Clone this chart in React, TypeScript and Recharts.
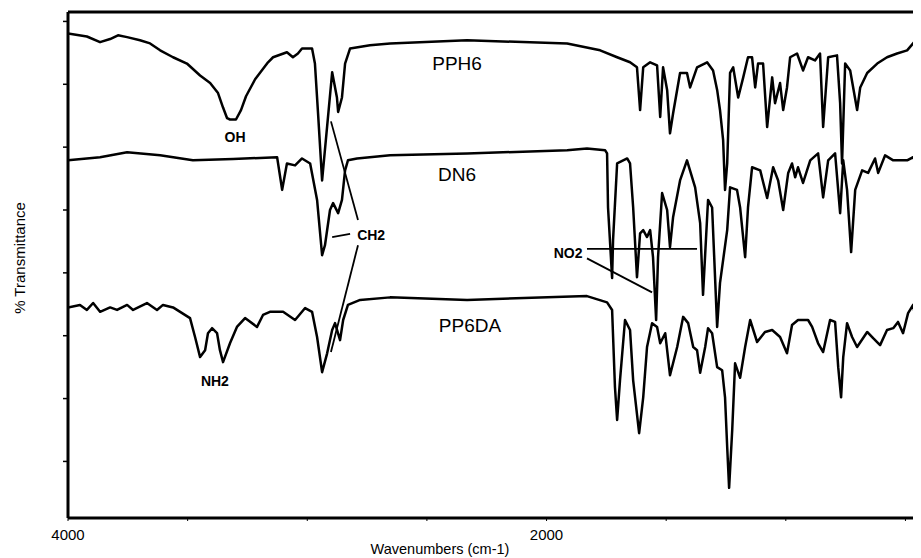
import { LineChart, Line, XAxis, YAxis, ReferenceLine, ReferenceDot } from "recharts";

const FONT = '"Liberation Sans", Arial, Helvetica, sans-serif';

// [wavenumber cm-1, %T (offset, arbitrary units)]
const pph6: [number, number][] = [
  [4000, 77.1], [3921, 76.6], [3866, 75.7], [3824, 76.2], [3791, 76.8], [3753, 76.5],
  [3699, 76.0], [3657, 75.5], [3615, 74.4], [3561, 73.3], [3503, 72.3], [3448, 70.4],
  [3406, 69.2], [3373, 67.6], [3352, 65.3], [3335, 63.6], [3323, 63.4], [3298, 63.4],
  [3277, 64.9], [3256, 67.1], [3218, 69.8], [3164, 72.5], [3143, 73.3], [3085, 74.1],
  [3060, 73.3], [3039, 73.9], [3022, 74.7], [2980, 74.7], [2968, 72.3], [2955, 64.4],
  [2938, 53.7], [2896, 70.9], [2876, 66.9], [2871, 64.6], [2855, 66.9], [2842, 72.3],
  [2821, 74.7], [2738, 75.2], [2654, 75.5], [2332, 76.0], [1914, 75.5], [1776, 74.4],
  [1705, 73.3], [1651, 72.5], [1622, 71.7], [1609, 64.9], [1596, 71.7], [1567, 72.5],
  [1538, 72.0], [1525, 63.8], [1513, 71.7], [1496, 68.1], [1484, 61.2], [1471, 64.4],
  [1442, 70.8], [1413, 70.8], [1400, 68.5], [1371, 71.7], [1329, 72.5], [1304, 71.2],
  [1287, 68.1], [1275, 64.9], [1262, 60.1], [1254, 52.2], [1245, 56.4], [1233, 70.8],
  [1220, 71.7], [1199, 66.9], [1178, 70.1], [1158, 73.3], [1141, 73.3], [1128, 68.5],
  [1116, 72.3], [1095, 72.3], [1078, 62.2], [1057, 70.1], [1045, 66.0], [1024, 69.2],
  [1011, 64.9], [995, 68.5], [982, 73.3], [953, 73.9], [928, 71.2], [907, 73.3],
  [878, 72.8], [857, 73.9], [844, 62.2], [823, 73.3], [786, 73.6], [773, 66.0],
  [765, 56.4], [752, 72.3], [731, 71.2], [702, 64.9], [689, 68.5], [660, 70.8],
  [618, 72.3], [577, 73.3], [535, 73.9], [493, 74.4], [468, 75.5], [439, 77.1],
];

const dn6: [number, number][] = [
  [4000, 56.9], [3866, 57.4], [3753, 58.2], [3615, 57.7], [3478, 56.9], [3310, 57.1],
  [3126, 57.4], [3105, 52.2], [3085, 56.4], [3051, 56.1], [3022, 57.2], [2988, 56.4],
  [2959, 50.6], [2938, 41.8], [2926, 43.4], [2905, 49.0], [2892, 50.1], [2871, 48.5],
  [2855, 50.6], [2842, 55.3], [2830, 56.9], [2792, 57.2], [2654, 57.7], [2332, 58.0],
  [1914, 58.5], [1831, 58.8], [1755, 58.5], [1747, 58.0], [1743, 49.4], [1726, 38.2],
  [1722, 44.2], [1705, 56.4], [1663, 57.2], [1651, 56.4], [1638, 49.4], [1622, 38.3],
  [1609, 45.3], [1596, 45.8], [1580, 44.7], [1567, 45.8], [1555, 41.5], [1542, 31.5],
  [1534, 41.5], [1517, 51.7], [1496, 49.0], [1484, 43.1], [1471, 47.9], [1442, 53.7],
  [1413, 56.9], [1379, 52.6], [1358, 46.9], [1346, 35.5], [1325, 50.6], [1308, 49.4],
  [1287, 30.4], [1275, 37.4], [1245, 45.8], [1233, 52.6], [1204, 52.2], [1191, 49.4],
  [1170, 41.5], [1158, 49.4], [1141, 55.8], [1107, 55.3], [1078, 50.9], [1053, 55.8],
  [1032, 53.7], [1011, 49.0], [990, 54.9], [974, 56.4], [961, 54.2], [949, 55.8],
  [928, 53.3], [898, 56.9], [865, 58.0], [844, 51.0], [823, 56.9], [794, 58.0],
  [773, 48.5], [760, 56.9], [744, 52.2], [727, 42.3], [710, 52.2], [681, 55.3],
  [656, 54.9], [627, 57.2], [614, 54.9], [585, 57.7], [551, 56.9], [493, 56.9],
  [468, 57.4], [447, 55.8], [439, 54.9],
];

const pp6da: [number, number][] = [
  [4000, 33.5], [3950, 33.9], [3921, 33.1], [3895, 34.2], [3866, 32.8], [3824, 33.5],
  [3795, 33.1], [3753, 33.9], [3728, 33.1], [3670, 34.2], [3628, 33.1], [3603, 33.9],
  [3561, 33.5], [3523, 32.6], [3490, 31.8], [3469, 28.8], [3448, 25.6], [3427, 26.7],
  [3415, 29.4], [3398, 30.2], [3377, 29.4], [3365, 26.7], [3352, 24.8], [3323, 27.8],
  [3294, 30.4], [3260, 31.8], [3210, 30.4], [3185, 32.3], [3156, 32.8], [3101, 32.8],
  [3051, 31.5], [3009, 33.4], [2980, 32.8], [2959, 28.8], [2938, 23.2], [2917, 26.2],
  [2896, 29.9], [2884, 31.0], [2863, 28.3], [2850, 31.5], [2830, 33.9], [2779, 34.7],
  [2654, 35.1], [2332, 34.7], [1831, 35.3], [1747, 34.3], [1726, 33.1], [1714, 20.8],
  [1705, 15.6], [1693, 21.9], [1672, 31.5], [1651, 29.9], [1638, 21.9], [1613, 13.5],
  [1596, 19.2], [1580, 27.2], [1559, 31.0], [1538, 30.4], [1525, 27.8], [1504, 29.4],
  [1484, 22.7], [1454, 27.2], [1429, 32.0], [1408, 31.0], [1387, 27.2], [1371, 26.7],
  [1358, 23.1], [1337, 27.2], [1325, 30.2], [1308, 29.4], [1287, 24.0], [1266, 23.5],
  [1254, 19.2], [1245, 11.3], [1237, 4.8], [1224, 14.0], [1212, 24.6], [1191, 22.3],
  [1170, 27.2], [1149, 31.5], [1120, 28.0], [1087, 29.6], [1057, 29.9], [1024, 28.8],
  [995, 26.2], [974, 30.7], [949, 31.5], [907, 31.5], [890, 30.4], [865, 27.8],
  [844, 26.4], [815, 31.5], [794, 31.2], [781, 24.0], [769, 19.2], [760, 25.6],
  [744, 31.0], [723, 28.8], [702, 27.2], [660, 29.6], [635, 28.6], [606, 27.5],
  [577, 29.9], [551, 30.2], [531, 31.2], [510, 29.4], [489, 32.6], [468, 33.9],
  [451, 30.4], [439, 28.6],
];

const xTicks = [4000, 3500, 3000, 2500, 2000, 1500, 1000, 500];
const xLabeled = [4000, 2000];
const yTicks = [9, 19, 29, 39, 49, 59, 69, 79];
const yMax = 80.5;

const traceNames = ["PPH6", "DN6", "PP6DA"];
const tracePos: [number, number][] = [[2374, 72.3], [2374, 54.7], [2320, 30.7]];
const bandNames = ["OH", "NH2", "CH2", "NO2"];
const bandPos: [number, number][] = [[3302, 60.6], [3386, 21.8], [2733, 45.0], [1910, 42.1]];

// leader lines from band labels to peaks: [wn1, t1, wn2, t2]
const leaders: [number, number, number, number][] = [
  [2901, 63.1, 2788, 47.4],
  [2896, 44.7, 2821, 45.2],
  [2788, 43.4, 2901, 26.4],
  [1831, 42.8, 1371, 42.8],
  [1831, 41.3, 1559, 35.9],
];

const toRows = (pts: [number, number][]) => pts.map(([wn, t]) => ({ wn, t }));

const XTitle = ({ viewBox }: any) => (
  <text x={viewBox.x + 372} y={viewBox.y + 31} textAnchor="middle" dominantBaseline="central"
    fontSize={14.5} fontFamily={FONT} fill="#000">
    Wavenumbers (cm-1)
  </text>
);

const YTitle = ({ viewBox }: any) => {
  const x = viewBox.x + 11;
  const y = viewBox.y + 246;
  return (
    <text x={x} y={y} transform={`rotate(-90 ${x} ${y})`} textAnchor="middle" dominantBaseline="central"
      fontSize={15} fontFamily={FONT} fill="#000">
      % Transmittance
    </text>
  );
};

export default function App() {
  const series = [pph6, dn6, pp6da];
  return (
    <LineChart width={913} height={550} margin={{ top: 4, right: 0, bottom: 0, left: 0 }}
      style={{ fontFamily: FONT }}>
      <XAxis
        type="number"
        dataKey="wn"
        domain={[435, 4000]}
        reversed
        allowDataOverflow
        ticks={xTicks}
        tickFormatter={(v) => (xLabeled.includes(v) ? String(v) : "")}
        tick={{ fill: "#000", fontSize: 15, fontFamily: FONT }}
        tickSize={3}
        tickMargin={8}
        height={40}
        axisLine={{ stroke: "#000", strokeWidth: 3 }}
        tickLine={{ stroke: "#000", strokeWidth: 1 }}
        label={<XTitle />}
      />
      <YAxis
        type="number"
        domain={[0, yMax]}
        ticks={yTicks}
        tickFormatter={() => ""}
        width={60}
        tickSize={5}
        axisLine={{ stroke: "#000", strokeWidth: 3 }}
        tickLine={{ stroke: "#000", strokeWidth: 1.5 }}
        label={<YTitle />}
      />
      <ReferenceLine y={yMax} stroke="#000" strokeWidth={3} />
      {series.map((pts, i) => (
        <Line
          key={traceNames[i]}
          data={toRows(pts)}
          dataKey="t"
          type="linear"
          stroke="#000"
          strokeWidth={2.5}
          strokeLinejoin="round"
          dot={false}
          activeDot={false}
          isAnimationActive={false}
        />
      ))}
      {leaders.map(([x1, y1, x2, y2], i) => (
        <ReferenceLine key={`ld${i}`} segment={[{ x: x1, y: y1 }, { x: x2, y: y2 }]}
          stroke="#000" strokeWidth={1.8} />
      ))}
      {traceNames.map((name, i) => (
        <ReferenceDot key={name} x={tracePos[i][0]} y={tracePos[i][1]} r={0} fill="none" stroke="none"
          label={{ value: name, position: "center", fontSize: 19, fill: "#000", fontFamily: FONT }} />
      ))}
      {bandNames.map((name, i) => (
        <ReferenceDot key={name} x={bandPos[i][0]} y={bandPos[i][1]} r={0} fill="none" stroke="none"
          label={{ value: name, position: "center", fontSize: 14, fontWeight: "bold", fill: "#000", fontFamily: FONT }} />
      ))}
    </LineChart>
  );
}
